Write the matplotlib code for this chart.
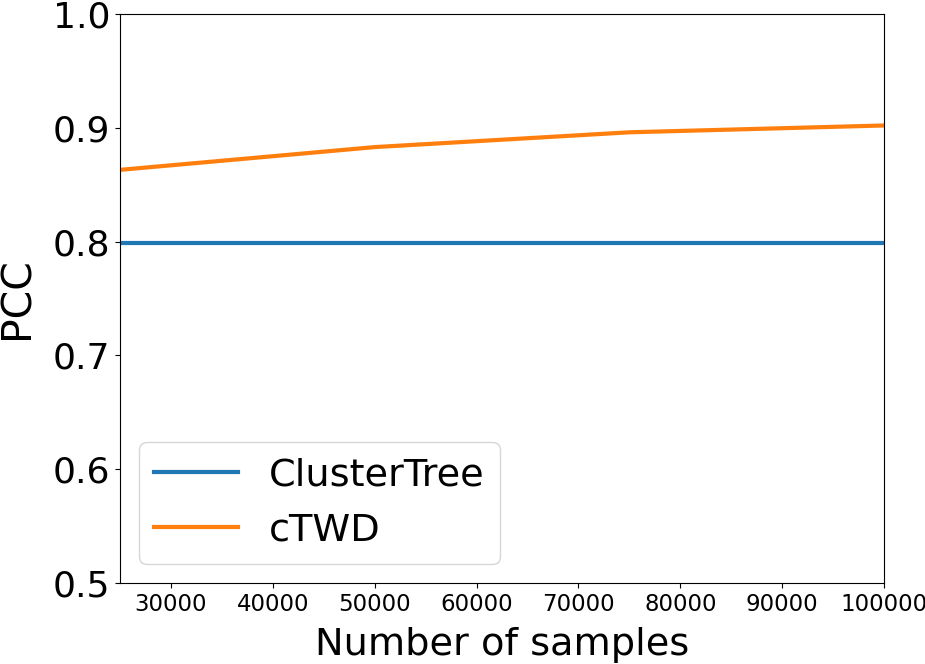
import matplotlib
matplotlib.use("Agg")
import matplotlib.pyplot as plt

samples = [25000, 50000, 75000, 100000]
cluster_tree = [0.799, 0.799, 0.799, 0.799]
ctwd = [0.863, 0.883, 0.896, 0.902]
xticks = [30000, 40000, 50000, 60000, 70000, 80000, 90000, 100000]
yticks = [0.5, 0.6, 0.7, 0.8, 0.9, 1.0]

fig = plt.figure(figsize=(9.25, 6.64), dpi=100)
ax = fig.add_axes([0.1297, 0.122, 0.826, 0.857])
ax.plot(samples, cluster_tree, color="#1f77b4", linewidth=3, label="ClusterTree")
ax.plot(samples, ctwd, color="#ff7f0e", linewidth=3, label="cTWD")
ax.set_xlim(25000, 100000)
ax.set_ylim(0.5, 1.0)
ax.set_xticks(xticks)
ax.set_xticklabels([str(v) for v in xticks], fontsize=16.5)
ax.set_yticks(yticks)
ax.set_yticklabels([f"{v:.1f}" for v in yticks], fontsize=26)
ax.set_xlabel("Number of samples", fontsize=27.5, labelpad=8)
ax.set_ylabel("PCC", fontsize=29.5, labelpad=11)
ax.legend(loc="lower left", fontsize=27.5, handlelength=2.2, borderaxespad=0.5)
fig.savefig("out.png", dpi=100)
